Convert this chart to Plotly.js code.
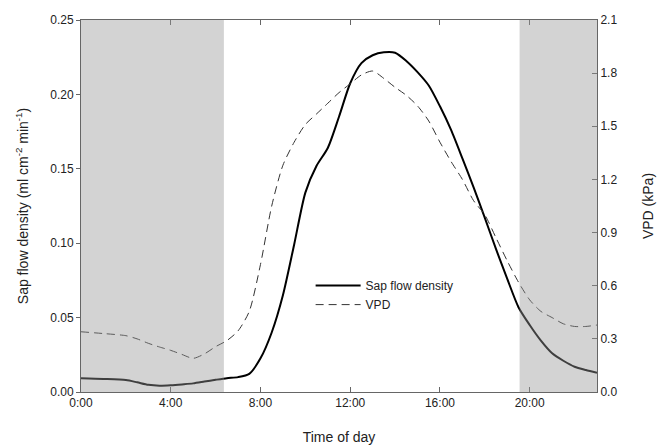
<!DOCTYPE html>
<html>
<head>
<meta charset="utf-8">
<script src="https://cdn.plot.ly/plotly-3.0.1.min.js"></script>
<style>html,body{margin:0;padding:0;background:#fff;}#chart{width:670px;height:447px;}</style>
</head>
<body>
<div id="chart"></div>
<script>
// Time of day in hours
const hours = [0,1,2,2.5,3,3.5,4,4.5,5,5.5,6,6.5,7,7.5,8,8.5,9,9.5,10,10.5,11,11.5,12,12.5,13,13.5,14,14.5,15,15.5,16,16.5,17,17.5,18,18.5,19,19.5,20,20.5,21,21.5,22,22.5,23];
// Sap flow density (ml cm-2 min-1)
const sapFlow = [0.0093,0.0088,0.0080,0.0065,0.0048,0.0042,0.0045,0.0051,0.0058,0.0070,0.0082,0.0093,0.0100,0.0122,0.0226,0.040,0.065,0.099,0.134,0.152,0.164,0.185,0.2075,0.221,0.2263,0.2283,0.2280,0.2225,0.215,0.206,0.192,0.176,0.157,0.1375,0.117,0.096,0.076,0.057,0.045,0.0345,0.026,0.021,0.017,0.0148,0.013];
// VPD (kPa)
const vpd = [0.340,0.330,0.318,0.300,0.275,0.254,0.235,0.212,0.190,0.215,0.256,0.290,0.345,0.455,0.72,1.05,1.28,1.41,1.51,1.57,1.63,1.69,1.74,1.79,1.812,1.77,1.72,1.675,1.615,1.53,1.41,1.30,1.20,1.08,1.00,0.87,0.74,0.62,0.52,0.455,0.42,0.385,0.37,0.37,0.378];
// Night periods (hours)
const nightStart = [0, 19.55];
const nightEnd = [6.37, 23];
const tickHours = [0,4,8,12,16,20];
const tickLabels = ["0:00","4:00","8:00","12:00","16:00","20:00"];

const font = {family: "Liberation Sans, Arial, sans-serif", size: 12, color: "#222"};

const traces = [
  {x: hours, y: sapFlow, name: "Sap flow density", type: "scatter", mode: "lines",
   line: {color: "#000", width: 2, shape: "spline", smoothing: 0.7}, yaxis: "y"},
  {x: hours, y: vpd, name: "VPD", type: "scatter", mode: "lines",
   line: {color: "#333", width: 1, dash: "8px,5px", shape: "spline", smoothing: 0.7}, yaxis: "y2"}
];

const shapes = nightStart.map((s, i) => ({
  type: "rect", xref: "x", yref: "paper", x0: s, x1: nightEnd[i], y0: 0, y1: 1,
  fillcolor: "rgb(150,150,150)", opacity: 0.42, line: {width: 0}, layer: "above"
}));

const layout = {
  width: 670, height: 447,
  margin: {l: 81, r: 73, t: 20, b: 55},
  paper_bgcolor: "#fff", plot_bgcolor: "#fff",
  font: font,
  showlegend: true,
  legend: {x: 0.445, y: 0.325, xanchor: "left", yanchor: "top", bgcolor: "rgba(0,0,0,0)",
           itemwidth: 45, tracegroupgap: 0,
           font: {family: font.family, size: 12, color: "#222"}},
  xaxis: {range: [0, 23], tickvals: tickHours, ticktext: tickLabels, ticks: "inside", ticklen: 5,
          tickcolor: "#666", showline: true, linecolor: "#666", linewidth: 1, mirror: "ticks",
          showgrid: false, zeroline: false,
          title: {text: "Time of day", font: {family: font.family, size: 14, color: "#222"}, standoff: 22}},
  yaxis: {range: [0, 0.25], dtick: 0.05, tickformat: ".2f", ticks: "outside", ticklen: 4,
          tickcolor: "#666", showline: true, linecolor: "#666", linewidth: 1,
          showgrid: false, zeroline: false,
          title: {text: "Sap flow density (ml cm<sup>-2</sup> min<sup>-1</sup>)",
                  font: {family: font.family, size: 14, color: "#222"}, standoff: 18}},
  yaxis2: {range: [0, 2.1], dtick: 0.3, tickformat: ".1f", overlaying: "y", side: "right",
           ticks: "inside", ticklen: 5, tickcolor: "#666", showline: true, linecolor: "#666", linewidth: 1,
           showgrid: false, zeroline: false,
           title: {text: "VPD (kPa)", font: {family: font.family, size: 14, color: "#222"}, standoff: 26}},
  shapes: shapes
};

Plotly.newPlot("chart", traces, layout, {displayModeBar: false, staticPlot: true});
</script>
</body>
</html>
